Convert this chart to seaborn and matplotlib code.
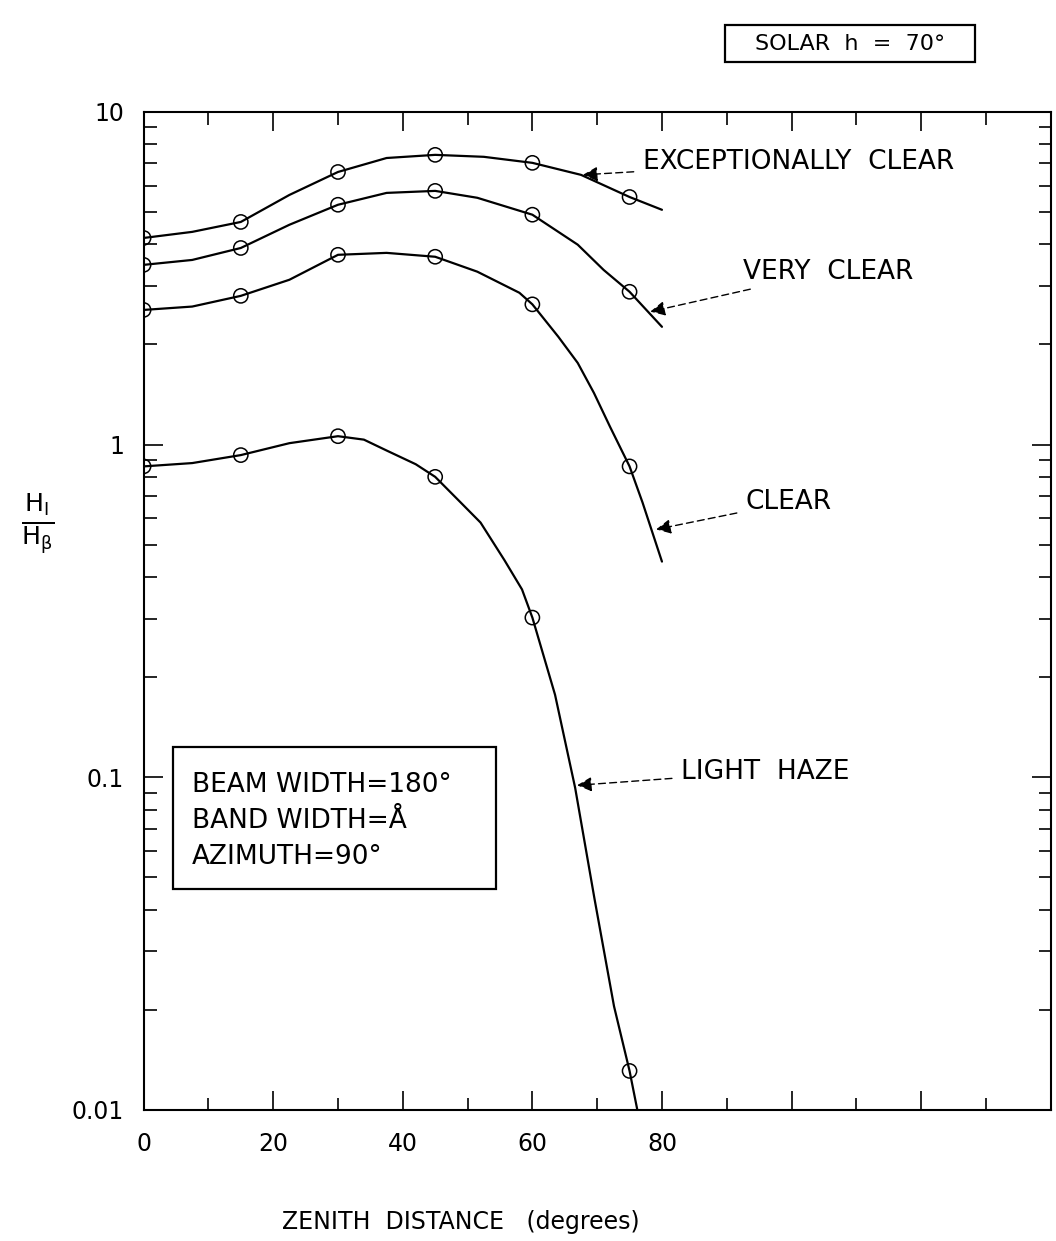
import matplotlib

matplotlib.use("Agg")
import matplotlib.pyplot as plt
import matplotlib.ticker as mticker
import pandas as pd
import seaborn as sns
from matplotlib.patches import Rectangle


# curves (zenith distance in degrees, H_I / H_beta)
EXC_X = [0, 7.5, 15, 22.5, 30, 37.5, 45, 52.5, 60, 67.5, 75, 80]
EXC_Y = [4.18, 4.36, 4.67, 5.63, 6.60, 7.27, 7.43, 7.33, 7.03, 6.47, 5.55, 5.08]

VERY_X = [0, 7.5, 15, 22.5, 30, 37.5, 45, 51.5, 60, 67, 71, 75, 80]
VERY_Y = [3.47, 3.59, 3.90, 4.58, 5.26, 5.71, 5.79, 5.52, 4.91, 3.99, 3.35, 2.88, 2.26]

CLEAR_X = [0, 7.5, 15, 22.5, 30, 37.5, 45, 51.5, 58, 60, 64, 67, 69.5, 72, 75, 77, 80]
CLEAR_Y = [2.54, 2.60, 2.80, 3.13, 3.72, 3.77, 3.67, 3.31, 2.86, 2.64, 2.11, 1.76, 1.43, 1.13,
           0.86, 0.67, 0.445]

HAZE_X = [0, 7.5, 15, 22.5, 30, 34, 37.5, 42, 45, 48.8, 52, 55.7, 58.4, 60, 63.5, 66.6, 69.6,
          72.6, 75, 76.2]
HAZE_Y = [0.86, 0.88, 0.93, 1.01, 1.06, 1.035, 0.96, 0.873, 0.80, 0.674, 0.583, 0.449, 0.367,
          0.302, 0.177, 0.093, 0.043, 0.0205, 0.0131, 0.010]

MEASURED_X = [0, 15, 30, 45, 60, 75]

SERIES = {
    "EXCEPTIONALLY  CLEAR": (EXC_X, EXC_Y),
    "VERY  CLEAR": (VERY_X, VERY_Y),
    "CLEAR": (CLEAR_X, CLEAR_Y),
    "LIGHT  HAZE": (HAZE_X, HAZE_Y),
}

# label text anchor, arrow tip
LABELS = {
    "EXCEPTIONALLY  CLEAR": ((77.0, 7.08), (67.8, 6.47)),
    "VERY  CLEAR": ((92.5, 3.31), (78.2, 2.51)),
    "CLEAR": ((92.9, 0.67), (79.1, 0.556)),
    "LIGHT  HAZE": ((82.9, 0.104), (66.9, 0.0946)),
}

X_TICKS = [0, 20, 40, 60, 80, 100, 120, 140]
X_TICK_LABELS = ["0", "20", "40", "60", "80", "", "", ""]
Y_TICKS = [0.01, 0.1, 1, 10]
Y_TICK_LABELS = ["0.01", "0.1", "1", "10"]

PARAMS_TEXT = "BEAM WIDTH=180°\nBAND WIDTH=Å\nAZIMUTH=90°"


def build_frames():
    curves = []
    points = []
    for name, (xs, ys) in SERIES.items():
        curves.append(pd.DataFrame({"zenith": xs, "ratio": ys, "sky": name}))
        sel = [(x, y) for x, y in zip(xs, ys) if x in MEASURED_X]
        points.append(pd.DataFrame({"zenith": [p[0] for p in sel], "ratio": [p[1] for p in sel], "sky": name}))
    return pd.concat(curves, ignore_index=True), pd.concat(points, ignore_index=True)


def main() -> None:
    sns.set_theme(style="ticks")
    plt.rcParams["font.family"] = ["DejaVu Sans"]
    for key in ("text.color", "axes.labelcolor", "xtick.color", "ytick.color", "axes.edgecolor"):
        plt.rcParams[key] = "black"

    curves, points = build_frames()

    fig = plt.figure(figsize=(10.56, 12.41), dpi=100)
    ax = fig.add_axes([0.136, 0.1056, 0.859, 0.8042])

    sns.lineplot(
        data=curves, x="zenith", y="ratio", hue="sky",
        palette={k: "black" for k in SERIES}, sort=False, estimator=None,
        linewidth=1.6, legend=False, ax=ax,
    )
    sns.scatterplot(
        data=points, x="zenith", y="ratio", marker="o", s=105,
        facecolor="none", edgecolor="black", linewidth=1.1, legend=False, ax=ax, zorder=3,
    )

    ax.set_yscale("log")
    ax.set_xlim(0, 140)
    ax.set_ylim(0.01, 10)

    ax.set_xticks(X_TICKS)
    ax.set_xticklabels(X_TICK_LABELS)
    ax.xaxis.set_minor_locator(mticker.MultipleLocator(10))
    ax.set_yticks(Y_TICKS)
    ax.set_yticklabels(Y_TICK_LABELS)
    ax.yaxis.set_minor_locator(mticker.LogLocator(base=10, subs=range(2, 10)))
    ax.yaxis.set_minor_formatter(mticker.NullFormatter())

    ax.tick_params(which="both", direction="in", top=True, right=True, width=1.2)
    ax.tick_params(axis="y", which="major", length=14, labelsize=17, pad=14)
    ax.tick_params(axis="x", which="major", length=14, labelsize=17, pad=16)
    ax.tick_params(which="minor", length=9)
    for spine in ax.spines.values():
        spine.set_linewidth(1.5)

    ax.set_xlabel("ZENITH  DISTANCE   (degrees)", fontsize=17)
    ax.xaxis.set_label_coords(0.35, -0.10)
    ax.set_ylabel("")
    fig.text(0.036, 0.578, r"$\frac{\mathrm{H_I}}{\mathrm{H_\beta}}$", fontsize=26,
             ha="center", va="center")

    for name, (text_xy, tip_xy) in LABELS.items():
        ax.annotate(
            name, xy=tip_xy, xytext=text_xy, fontsize=19, ha="left", va="center",
            arrowprops=dict(arrowstyle="-|>", color="black", lw=1.0, linestyle=(0, (5, 3)),
                            shrinkA=4, shrinkB=0, mutation_scale=22),
        )

    # parameter box inside the axes
    ax.add_patch(Rectangle((0.032, 0.2214), 0.357, 0.1423, transform=ax.transAxes,
                           facecolor="white", edgecolor="black", linewidth=1.6, zorder=4))
    ax.text(0.053, 0.2896, PARAMS_TEXT, transform=ax.transAxes, fontsize=19,
            linespacing=1.5, ha="left", va="center", zorder=5)

    # solar altitude box above the axes
    fig.patches.append(Rectangle((0.6866, 0.950), 0.2367, 0.0299, transform=fig.transFigure,
                                 facecolor="white", edgecolor="black", linewidth=1.6))
    fig.text(0.805, 0.9645, "SOLAR  h  =  70°", fontsize=16, ha="center", va="center")

    fig.savefig("out.png", dpi=100)
    plt.close(fig)


if __name__ == "__main__":
    main()
